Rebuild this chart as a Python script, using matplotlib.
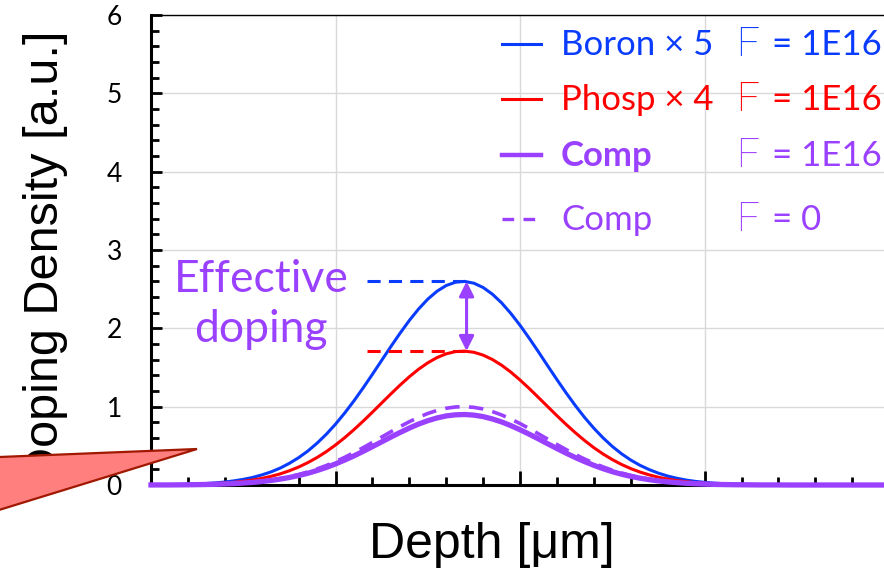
import numpy as np
import matplotlib
matplotlib.use("Agg")
import matplotlib.pyplot as plt
from matplotlib.lines import Line2D
from matplotlib.patches import Polygon
from matplotlib.ticker import MultipleLocator

# ── data ─────────────────────────────────────────────────────────────
depth = np.arange(0, 20.25, 0.25)
boron = [0.002, 0.003, 0.004, 0.006, 0.009, 0.014, 0.019, 0.027, 0.038, 0.053,
         0.072, 0.096, 0.128, 0.167, 0.216, 0.277, 0.349, 0.434, 0.534, 0.648,
         0.777, 0.920, 1.075, 1.241, 1.414, 1.591, 1.768, 1.939, 2.101, 2.247,
         2.373, 2.474, 2.547, 2.589, 2.599, 2.576, 2.521, 2.436, 2.325, 2.190,
         2.038, 1.872, 1.698, 1.520, 1.344, 1.174, 1.012, 0.861, 0.724, 0.601,
         0.492, 0.398, 0.318, 0.251, 0.196, 0.151, 0.114, 0.086, 0.063, 0.046,
         0.034, 0.024, 0.017, 0.012, 0.008, 0.005, 0.004, 0.002, 0.002, 0.001,
         0.001, 0, 0, 0, 0, 0, 0, 0, 0, 0, 0]
phosp = [0.001, 0.002, 0.003, 0.004, 0.006, 0.009, 0.013, 0.018, 0.025, 0.035,
         0.047, 0.063, 0.084, 0.110, 0.142, 0.182, 0.229, 0.286, 0.351, 0.426,
         0.511, 0.605, 0.707, 0.816, 0.930, 1.047, 1.163, 1.276, 1.382, 1.478,
         1.560, 1.627, 1.675, 1.703, 1.709, 1.694, 1.658, 1.602, 1.529, 1.441,
         1.340, 1.231, 1.116, 1.000, 0.884, 0.772, 0.666, 0.567, 0.476, 0.395,
         0.324, 0.262, 0.209, 0.165, 0.129, 0.099, 0.075, 0.056, 0.042, 0.030,
         0.022, 0.016, 0.011, 0.008, 0.005, 0.004, 0.002, 0.002, 0.001, 0.001,
         0, 0, 0, 0, 0, 0, 0, 0, 0, 0, 0]
comp = [0.001, 0.001, 0.001, 0.002, 0.003, 0.005, 0.007, 0.009, 0.013, 0.018,
        0.025, 0.033, 0.044, 0.058, 0.075, 0.096, 0.121, 0.150, 0.185, 0.224,
        0.269, 0.319, 0.372, 0.430, 0.490, 0.551, 0.612, 0.671, 0.727, 0.778,
        0.821, 0.856, 0.882, 0.896, 0.900, 0.892, 0.873, 0.843, 0.805, 0.758,
        0.705, 0.648, 0.588, 0.526, 0.465, 0.406, 0.350, 0.298, 0.251, 0.208,
        0.170, 0.138, 0.110, 0.087, 0.068, 0.052, 0.040, 0.030, 0.022, 0.016,
        0.012, 0.008, 0.006, 0.004, 0.003, 0.002, 0.001, 0.001, 0.001, 0,
        0, 0, 0, 0, 0, 0, 0, 0, 0, 0, 0]
comp_f0 = [0.001, 0.001, 0.002, 0.002, 0.004, 0.005, 0.007, 0.011, 0.015, 0.020,
           0.028, 0.037, 0.049, 0.064, 0.083, 0.106, 0.134, 0.167, 0.205, 0.249,
           0.299, 0.354, 0.414, 0.477, 0.544, 0.612, 0.680, 0.746, 0.808, 0.864,
           0.913, 0.952, 0.980, 0.996, 1.000, 0.991, 0.970, 0.937, 0.894, 0.842,
           0.784, 0.720, 0.653, 0.585, 0.517, 0.451, 0.389, 0.331, 0.279, 0.231,
           0.189, 0.153, 0.122, 0.097, 0.075, 0.058, 0.044, 0.033, 0.024, 0.018,
           0.013, 0.009, 0.006, 0.004, 0.003, 0.002, 0.001, 0.001, 0.001, 0,
           0, 0, 0, 0, 0, 0, 0, 0, 0, 0, 0]

peak_x = 8.5                  # depth of the peaks
boron_peak, phosp_peak = 2.6, 1.71
dash_start = 5.85

yticks = [0, 1, 2, 3, 4, 5, 6]

BLUE   = "#0A3CFF"
RED    = "#FF0000"
PURPLE = "#9A40FF"
GRID   = "#D9D9D9"

W, H = 884, 570
def fx(x): return x / W
def fy(y): return 1 - y / H

fig = plt.figure(figsize=(W / 100, H / 100), dpi=100)
ax = fig.add_axes([fx(151), fy(485), fx(884 - 151), (485 - 15) / H])

ax.set_xlim(0, 19.86)
ax.set_ylim(0, 6)
ax.grid(True, color=GRID, linewidth=1.0, zorder=0)
ax.xaxis.set_major_locator(MultipleLocator(5))
ax.xaxis.set_minor_locator(MultipleLocator(1))
ax.set_yticks(yticks)
ax.yaxis.set_minor_locator(MultipleLocator(0.2))
ax.set_xticklabels([])
ax.tick_params(axis="both", which="both", direction="in", width=2.0, color="black")
ax.tick_params(axis="x", which="major", length=10)
ax.tick_params(axis="x", which="minor", length=6)
ax.tick_params(axis="y", which="major", length=8, pad=21)
ax.tick_params(axis="y", which="minor", length=6)
for lab in ax.get_yticklabels():
    lab.set_fontfamily("Lato")
    lab.set_fontsize(19)

ax.spines["right"].set_visible(False)
ax.spines["left"].set_linewidth(2.2)
ax.spines["bottom"].set_linewidth(2.2)
ax.spines["top"].set_linewidth(1.0)

ax.plot(depth, boron, color=BLUE, lw=2.2, zorder=3)
ax.plot(depth, phosp, color=RED, lw=2.2, zorder=3)
ax.plot(depth, comp_f0, color=PURPLE, lw=2.6, ls=(0, (4, 2.6)), zorder=4)
ax.plot(depth, comp, color=PURPLE, lw=3.8, zorder=5, clip_on=False)

# effective doping marker
ax.plot([dash_start, peak_x], [boron_peak, boron_peak], color=BLUE, lw=2.2,
        dashes=(4.3, 2.7), zorder=3)
ax.plot([dash_start, peak_x], [phosp_peak, phosp_peak], color=RED, lw=2.2,
        dashes=(4.3, 2.7), zorder=3)
ax.annotate("", xy=(peak_x + 0.05, boron_peak), xytext=(peak_x + 0.05, phosp_peak),
            arrowprops=dict(arrowstyle="<|-|>", color=PURPLE, lw=2.2,
                            mutation_scale=22, shrinkA=0, shrinkB=0), zorder=6)
fig.text(fx(261), fy(292), "Effective", color=PURPLE, fontsize=32,
         family="Lato", ha="center", va="baseline")
fig.text(fx(261), fy(342), "doping", color=PURPLE, fontsize=32,
         family="Lato", ha="center", va="baseline")

# legend
rows = [(44, "Boron × 5", "= 1E16", BLUE, "-", 2.2, "normal"),
        (99, "Phosp × 4", "= 1E16", RED, "-", 2.2, "normal"),
        (155, "Comp", "= 1E16", PURPLE, "-", 3.2, "bold"),
        (219, "Comp", "= 0", PURPLE, (0, (3.5, 2.8)), 2.4, "normal")]
for y, name, flux, col, ls, lw, wt in rows:
    fig.add_artist(Line2D([fx(502), fx(541)], [fy(y), fy(y)], color=col,
                          ls=ls, lw=lw))
    fig.text(fx(561), fy(y + 11), name, color=col, fontsize=25, family="Lato",
             weight=wt, ha="left", va="baseline")
    fig.text(fx(736), fy(y + 12), "F", color=col, fontsize=29, family="Roboto",
             weight="light", ha="left", va="baseline")
    fig.text(fx(772), fy(y + 11), flux, color=col, fontsize=25, family="Lato",
             ha="left", va="baseline")

# axis titles
fig.text(fx(46), fy(256), "Doping Density [a.u.]", fontsize=35,
         family="Liberation Sans", rotation=90, ha="center", va="center")
fig.text(fx(492), fy(558), "Depth [μm]", fontsize=36,
         family="Liberation Sans", ha="center", va="baseline")

# red callout wedge
wedge = Polygon([(fx(-40), fy(458.6)), (fx(197), fy(449)), (fx(-40), fy(522))],
                closed=True, transform=fig.transFigure, facecolor="#FF7F7F",
                edgecolor="#A01800", lw=1.6, zorder=10)
fig.add_artist(wedge)

fig.savefig("out.png", dpi=100)
